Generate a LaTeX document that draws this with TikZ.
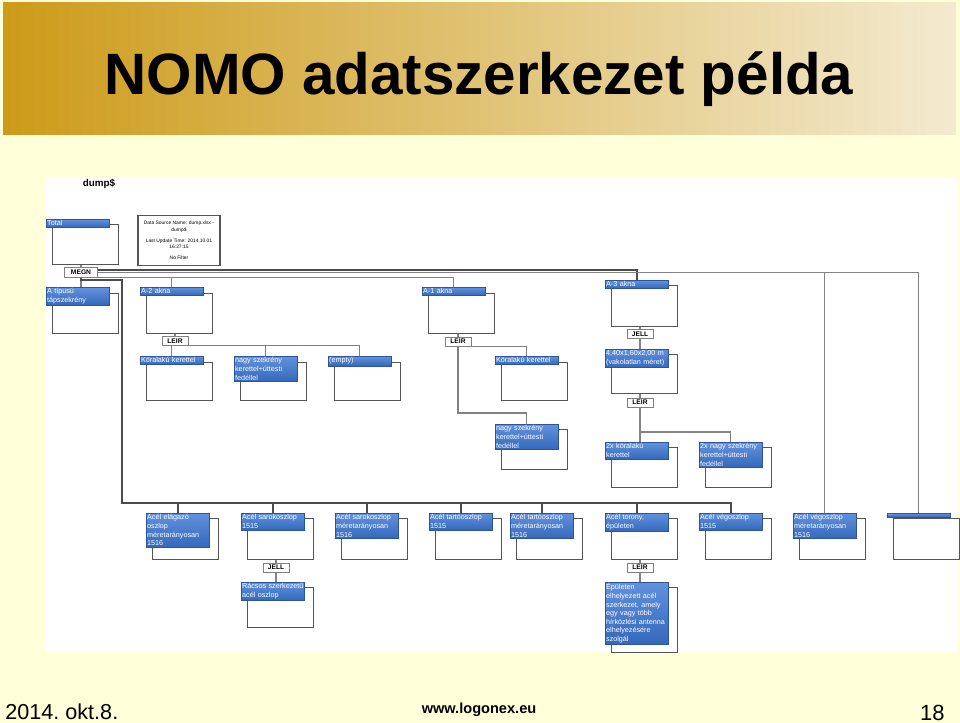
\documentclass[tikz,border=0pt]{standalone}
\usepackage{fontspec}
\setmainfont{Liberation Sans}
\usepackage{tikz}
\definecolor{pagebg}{RGB}{255,255,218}
\definecolor{bandleft}{RGB}{205,155,25}
\definecolor{bandright}{RGB}{243,234,208}
\definecolor{hdrtop}{RGB}{98,146,222}
\definecolor{hdrbot}{RGB}{52,104,186}
\definecolor{hdrline}{RGB}{45,85,155}
\definecolor{framegray}{RGB}{85,85,85}
\definecolor{linkgray}{RGB}{130,130,130}
\hyphenpenalty=10000
\exhyphenpenalty=10000

\begin{document}
\begin{tikzpicture}[
    x=0.02cm, y=-0.02cm,
    frame/.style={draw=framegray, line width=0.8pt, fill=white, anchor=north west, minimum width=1.32cm, minimum height=#1*0.02cm, inner sep=0pt},
    frame/.default=40,
    hdr/.style={draw=hdrline, line width=0.3pt, top color=hdrtop, bottom color=hdrbot, text=white, anchor=north west, font=\fontsize{4.1}{4.9}\selectfont, text width=1.225cm, inner xsep=0.5pt, inner ysep=0.8pt, align=left},
    tag/.style={draw=gray, line width=0.5pt, fill=white, font=\fontsize{3.8}{4}\selectfont\bfseries, minimum width=0.52cm, minimum height=0.18cm, inner sep=0pt},
    link/.style={draw=linkgray, line width=0.6pt},
    trunk/.style={draw=black!70, line width=1pt}
]
\useasboundingbox (0,0) rectangle (960,723);

% Hatter, cimsav
\fill[pagebg] (0,0) rectangle (960,723);
\shade[left color=bandleft, right color=bandright] (3,3) rectangle (956,135);
\node[anchor=base, font=\fontsize{33.2}{40}\selectfont\bfseries] (title) at (479,94) {NOMO adatszerkezet példa};

% Diagram terulete
\fill[white] (45,177) rectangle (957,652);
\node[font=\fontsize{5.6}{6}\selectfont\bfseries] (dump) at (99,184) {dump\$};

\node[frame] (totf) at (52,224) {};
\node[hdr] (tot) at (46,219) {Total};
\node[draw=framegray, line width=0.7pt, fill=white, minimum width=1.64cm, minimum height=0.94cm, align=center, font=\fontsize{2.8}{3.7}\selectfont] (src) at (179,240.5) {Data Source Name: dump.xlsx -\\dump\$\\[2.5pt]Last Update Time: 2014.10.01\\16:27:15\\[2.5pt]No Filter};

\node[tag, minimum width=0.66cm, minimum height=0.2cm] (megn) at (81,272.5) {MEGN};

% Aknak
\node[frame] (atipf) at (52,293) {};
\node[hdr] (atip) at (46,287) {A típusú\\tápszekrény};
\node[frame] (a2f) at (146,293) {};
\node[hdr] (a2) at (140,287) {A-2 akna};
\node[frame] (a1f) at (428,293) {};
\node[hdr] (a1) at (422,287) {A-1 akna};
\node[frame=41] (a3f) at (611,285) {};
\node[hdr] (a3) at (605,280) {A-3 akna};

% A-2 akna alatt
\node[tag] (leira) at (175,341) {LEIR};
\node[frame=38] (koraf) at (146,362) {};
\node[hdr] (kora) at (140,356) {Köralakú kerettel};
\node[frame=38] (nagyaf) at (240,362) {};
\node[hdr] (nagya) at (234,356) {nagy szekrény\\kerettel+úttesti\\fedéllel};
\node[frame=38] (emptf) at (334,362) {};
\node[hdr] (empt) at (328,356) {(empty)};

% A-1 akna alatt
\node[tag] (leirb) at (458,341.5) {LEIR};
\node[frame=38] (korbf) at (501,362) {};
\node[hdr] (korb) at (495,356) {Köralakú kerettel};
\node[frame] (nagybf) at (501,429) {};
\node[hdr] (nagyb) at (495,424) {nagy szekrény\\kerettel+úttesti\\fedéllel};
\coordinate (ajoin) at (458,413);

% A-3 akna alatt
\node[tag] (jella) at (640,334) {JELL};
\node[frame=39] (meretf) at (611,354) {};
\node[hdr] (meret) at (605,349) {4,40x1,60x2,00 m\\(vakolatlan méret)};
\node[tag] (leirc) at (640,402.5) {LEIR};
\node[frame] (korcf) at (611,447) {};
\node[hdr] (korc) at (605,442) {2x köralakú\\kerettel};
\node[frame] (nagycf) at (705,447) {};
\node[hdr] (nagyc) at (699,442) {2x nagy szekrény\\kerettel+úttesti\\fedéllel};
\coordinate (cjoin) at (640,432);

% Oszlopok
\coordinate (trunktop) at (122,280);
\coordinate (trunkbot) at (122,503);
\node[frame=41] (elagf) at (152,518) {};
\node[hdr] (elag) at (146,513) {Acél elágazó\\oszlop\\méretarányosan\\1516};
\node[frame=41] (sarokaf) at (247,518) {};
\node[hdr] (saroka) at (241,513) {Acél sarokoszlop\\1515};
\node[frame=41] (sarokbf) at (341,518) {};
\node[hdr] (sarokb) at (335,513) {Acél sarokoszlop\\méretarányosan\\1516};
\node[frame=41] (tartoaf) at (435,518) {};
\node[hdr] (tartoa) at (429,513) {Acél tartóoszlop\\1515};
\node[frame=41] (tartobf) at (516,518) {};
\node[hdr] (tartob) at (510,513) {Acél tartóoszlop\\méretarányosan\\1516};
\node[frame=41] (toronyf) at (611,518) {};
\node[hdr] (torony) at (605,513) {Acél torony,\\épületen};
\node[frame=41] (vegoaf) at (705,518) {};
\node[hdr] (vegoa) at (699,513) {Acél végoszlop\\1515};
\node[frame=41] (vegobf) at (799,518) {};
\node[hdr] (vegob) at (793,513) {Acél végoszlop\\méretarányosan\\1516};
\node[frame=41] (dotsf) at (893,518) {};
\node[hdr] (dots) at (887,513) {..};

\node[tag] (jellb) at (276,567.5) {JELL};
\node[frame] (racsosf) at (247,587) {};
\node[hdr] (racsos) at (241,582) {\mbox{Rácsos szerkezetű}\\acél oszlop};
\node[tag] (leird) at (640,567.5) {LEIR};
\node[frame=65] (epuletf) at (611,587) {};
\node[hdr] (epulet) at (605,582) {Épületen\\elhelyezett acél\\szerkezet, amely\\egy vagy több\\hírközlési antenna\\elhelyezésére\\szolgál};

% Osszekotesek
\draw[link] (megn.north |- totf.south) -- (megn.north);
\draw[link] (megn.south) -- (megn.south |- atip.north);
\draw[trunk] ([yshift=0.05cm]megn.east) -| (a3.north);
\draw[link] (megn.south east) -| (a2.north);
\draw[link] (megn.south east) -| (a1.north);
\draw[link] (megn.east) -| (vegob.north);
\draw[link] (megn.east) -| (dots.north);

\draw[trunk] (megn.south) |- (trunktop) -- (trunkbot) -| (vegoa.north);
\draw[trunk] (trunkbot) -| (elag.north);
\draw[trunk] (trunkbot) -| (saroka.north);
\draw[trunk] (trunkbot) -| (sarokb.north);
\draw[trunk] (trunkbot) -| (tartoa.north);
\draw[trunk] (trunkbot) -| (tartob.north);
\draw[trunk] (trunkbot) -| (torony.north);

\draw[link] (leira.north |- a2f.south) -- (leira.north);
\draw[link] (leira.south) -| (kora.north);
\draw[link] (leira.south) -| (nagya.north);
\draw[link] (leira.south) -| (empt.north);

\draw[link] (leirb.north |- a1f.south) -- (leirb.north);
\draw[link] (leirb.south) -| (korb.north);
\draw[link] (leirb.south) -- (ajoin) -| (nagyb.north);

\draw[link] (jella.north |- a3f.south) -- (jella.north);
\draw[link] (jella.south) -- (jella.south |- meret.north);
\draw[link] (leirc.north |- meretf.south) -- (leirc.north);
\draw[link] (leirc.south) -- (leirc.south |- korc.north);
\draw[link] (leirc.south) -- (cjoin) -| (nagyc.north);

\draw[link] (jellb.north |- sarokaf.south) -- (jellb.north);
\draw[link] (jellb.south) -- (jellb.south |- racsos.north);
\draw[link] (leird.north |- toronyf.south) -- (leird.north);
\draw[link] (leird.south) -- (leird.south |- epulet.north);

% Lablec
\node[anchor=base west, inner sep=0pt, font=\fontsize{12.3}{14}\selectfont] (date) at (5,719) {2014.\ okt.8.};
\node[anchor=base, inner sep=0pt, font=\fontsize{8.3}{10}\selectfont\bfseries] (web) at (479,713) {www.logonex.eu};
\node[anchor=base east, inner sep=0pt, font=\fontsize{12.5}{14}\selectfont] (page) at (945,720) {18};
\end{tikzpicture}
\end{document}
